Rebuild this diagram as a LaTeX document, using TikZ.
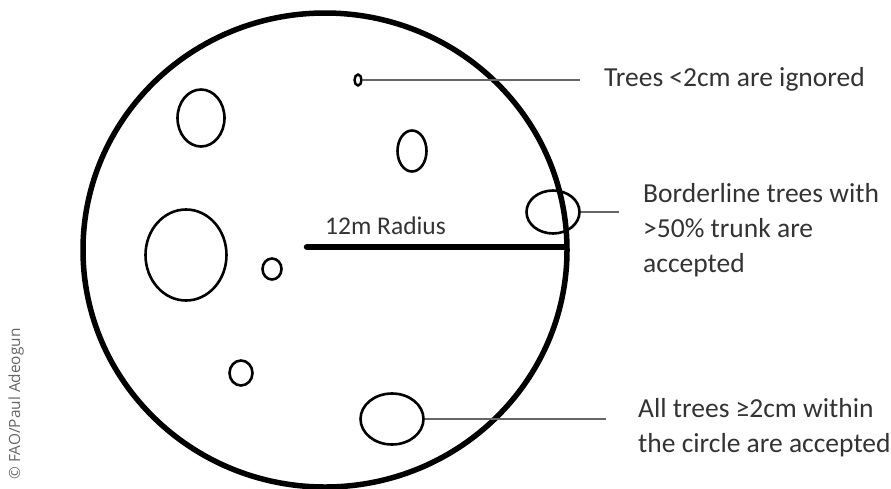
\documentclass[tikz,border=0pt]{standalone}
\usepackage{fontspec}
\setmainfont{Carlito}
\newfontfamily\credfont{Open Sans}
\usetikzlibrary{shapes.geometric}
\begin{document}
\begin{tikzpicture}[x=1pt,y=-1pt,
  tree/.style={draw=black, line width=2.6pt, ellipse, inner sep=0pt},
  leader/.style={draw=black!60, line width=1.3pt},
  lbl/.style={text=black!80, font=\fontsize{27.5}{35}\selectfont, align=left, inner sep=0pt}]
\useasboundingbox (0,0) rectangle (891,488);
% plot
\node[draw=black, line width=5.5pt, ellipse, minimum width=484pt, minimum height=474pt, inner sep=0pt] (plot) at (325,250) {};
% trees
\node[tree, minimum width=7pt, minimum height=11pt, line width=2.4pt] (t1) at (358,80) {};
\node[tree, minimum width=47pt, minimum height=57pt] (t2) at (201,118) {};
\node[tree, minimum width=29pt, minimum height=41pt] (t3) at (412,151) {};
\node[tree, minimum width=53pt, minimum height=43pt] (t4) at (553,212) {};
\node[tree, minimum width=81pt, minimum height=91pt] (t5) at (186,255) {};
\node[tree, minimum width=19pt, minimum height=21pt] (t6) at (272,269) {};
\node[tree, minimum width=23pt, minimum height=25pt] (t7) at (241,373) {};
\node[tree, minimum width=63pt, minimum height=51pt] (t8) at (392,419) {};
% radius
\coordinate (rc) at (307,247);
\coordinate (re) at (565,247);
\draw[line width=6.5pt, line cap=round] (rc) -- (re);
\node[lbl, font=\fontsize{25.5}{30}\selectfont, anchor=base west] (rlab) at (325,234) {12m Radius};
% labels
\node[lbl, anchor=base west] (l1) at (604,86) {Trees <2cm are ignored};
\node[lbl, anchor=north west] (l2) at (643,183.5) {Borderline trees with\\>50\% trunk are\\accepted};
\node[lbl, anchor=north west] (l3) at (638,398.5) {All trees ≥2cm within\\the circle are accepted};
\coordinate (e1) at (580,80);
\coordinate (e2) at (619,212);
\coordinate (e3) at (606,419);
\draw[leader] (t1.east) -- (e1);
\draw[leader] (t4.east) -- (e2);
\draw[leader] (t8.east) -- (e3);
% credit
\node[rotate=90, text=black!60, font=\credfont\fontsize{15.4}{17}\selectfont, inner sep=0pt] (cred) at (16,404) {© FAO/Paul Adeogun};
\end{tikzpicture}
\end{document}
